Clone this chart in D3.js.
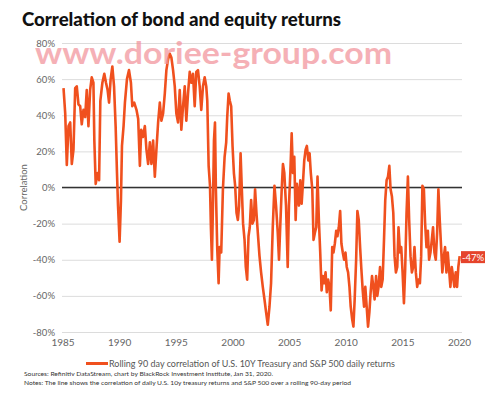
<!DOCTYPE html>
<html>
<head>
<meta charset="utf-8">
<script src="https://cdn.jsdelivr.net/npm/d3@7"></script>
<style>
  body { margin: 0; background: #fff; }
  text { font-family: Lato, "Open Sans", sans-serif; }
</style>
</head>
<body>
<svg id="chart" width="500" height="396"></svg>
<script>
// ---- data ----
const years = [
  1985.09, 1985.24, 1985.38, 1985.53, 1985.68, 1985.82, 1985.97, 1986.12, 1986.26, 1986.41,
  1986.56, 1986.70, 1986.85, 1987.00, 1987.14, 1987.29, 1987.44, 1987.58, 1987.73, 1987.81,
  1987.93, 1988.10, 1988.23, 1988.34, 1988.52, 1988.69, 1988.84, 1988.98, 1989.11, 1989.25,
  1989.40, 1989.55, 1989.69, 1989.81, 1989.90, 1990.04, 1990.16, 1990.25, 1990.39, 1990.51,
  1990.69, 1990.87, 1991.04, 1991.16, 1991.33, 1991.53, 1991.68, 1991.83, 1991.95, 1992.10,
  1992.27, 1992.41, 1992.56, 1992.71, 1992.85, 1993.00, 1993.15, 1993.29, 1993.44, 1993.59,
  1993.73, 1993.88, 1994.03, 1994.17, 1994.32, 1994.47, 1994.61, 1994.76, 1994.91, 1995.05,
  1995.20, 1995.35, 1995.49, 1995.64, 1995.79, 1995.93, 1996.08, 1996.23, 1996.37, 1996.52,
  1996.67, 1996.81, 1996.96, 1997.11, 1997.25, 1997.40, 1997.55, 1997.69, 1997.78, 1997.90,
  1998.02, 1998.10, 1998.19, 1998.28, 1998.37, 1998.46, 1998.54, 1998.66, 1998.78, 1998.87,
  1999.01, 1999.16, 1999.31, 1999.45, 1999.54, 1999.66, 1999.77, 1999.89, 2000.01, 2000.13,
  2000.24, 2000.36, 2000.48, 2000.59, 2000.72, 2000.83, 2000.94, 2001.07, 2001.18, 2001.30,
  2001.42, 2001.53, 2001.65, 2001.77, 2001.89, 2002.00, 2002.12, 2002.24, 2002.39, 2002.53,
  2002.68, 2002.83, 2002.97, 2003.12, 2003.27, 2003.41, 2003.56, 2003.71, 2003.85, 2004.00,
  2004.11, 2004.23, 2004.35, 2004.46, 2004.58, 2004.73, 2004.88, 2004.99, 2005.11, 2005.23,
  2005.34, 2005.46, 2005.58, 2005.69, 2005.87, 2005.99, 2006.11, 2006.22, 2006.34, 2006.46,
  2006.57, 2006.70, 2006.81, 2006.92, 2007.05, 2007.16, 2007.28, 2007.40, 2007.51, 2007.63,
  2007.75, 2007.87, 2007.98, 2008.10, 2008.22, 2008.33, 2008.45, 2008.57, 2008.68, 2008.81,
  2008.92, 2009.04, 2009.16, 2009.27, 2009.39, 2009.51, 2009.62, 2009.74, 2009.86, 2009.98,
  2010.09, 2010.21, 2010.33, 2010.44, 2010.57, 2010.68, 2010.79, 2010.92, 2011.03, 2011.15,
  2011.27, 2011.38, 2011.50, 2011.62, 2011.73, 2011.85, 2011.97, 2012.09, 2012.20, 2012.32,
  2012.44, 2012.55, 2012.68, 2012.79, 2012.90, 2013.03, 2013.14, 2013.26, 2013.38, 2013.49,
  2013.61, 2013.73, 2013.85, 2013.96, 2014.08, 2014.20, 2014.31, 2014.43, 2014.55, 2014.66,
  2014.79, 2014.90, 2015.02, 2015.14, 2015.25, 2015.37, 2015.49, 2015.60, 2015.72, 2015.84,
  2015.96, 2016.07, 2016.19, 2016.31, 2016.42, 2016.55, 2016.66, 2016.77, 2016.90, 2017.01,
  2017.13, 2017.25, 2017.36, 2017.48, 2017.60, 2017.71, 2017.83, 2017.95, 2018.07, 2018.18,
  2018.30, 2018.42, 2018.53, 2018.66, 2018.77, 2018.89, 2019.01, 2019.12, 2019.24, 2019.36,
  2019.47, 2019.59, 2019.71, 2019.83, 2019.94, 2020.06
];
const correlation = [
  55, 41, 12.5, 34, 36, 13, 21, 55, 56, 46,
  45, 35, 43, 39, 54, 34, 54, 61, 58, 26,
  2, 8, 4, 48, 58, 63, 58, 54, 47, 60,
  67, 56, 34, 8, -10, -30, -7, 23, 34, 47,
  60, 65, 58, 45, 47, 43, 38, 12, 32, 28,
  34, 21, 13, 25, 13, 26, 6, 21, 36, 47,
  37, 41, 52, 65, 71, 74, 72, 65, 56, 41,
  36, 54, 32, 45, 56, 37, 52, 64, 58, 63,
  45, 64, 65, 56, 43, 56, 61, 56, 48, 12,
  1, -22, -40, -10, 26, 36, -1, -34, -53, -33,
  -36, -1, 17, 25, 39, 52, 48, 45, 23, 8,
  1, -14, -18, -10, 19, -1, -20, -29, -44, -51,
  -27, -22, -7, -20, -18, -1, -14, -25, -38, -47,
  -55, -62, -69, -76, -66, -53, -22, 1, -10, -25,
  -40, -20, -1, 13, 8, -10, -44, -10, 8, 30,
  8, 17, -18, 2, -10, 4, -9, 2, 15, 21,
  23, 15, 19, 8, -1, -29, -25, -22, 6, -18,
  -36, -57, -49, -53, -47, -58, -51, -55, -68, -33,
  -36, -31, -24, -27, -22, -13, -31, -36, -40, -36,
  -44, -47, -55, -66, -73, -77, -62, -40, -13, -18,
  -33, -45, -57, -66, -55, -66, -77, -69, -58, -49,
  -55, -62, -49, -60, -55, -44, -55, -51, -29, -7,
  4, 6, 12, -1, -5, -14, -38, -47, -44, -22,
  -36, -33, -47, -64, -45, -14, 6, -18, -38, -47,
  -44, -33, -47, -55, -51, -53, -38, 1, -1, -20,
  -33, -24, -40, -36, -29, -22, -36, -40, -25, -1,
  -18, -33, -47, -38, -33, -47, -36, -45, -55, -44,
  -49, -55, -47, -55, -44, -38
];
const yTicks = [-80, -60, -40, -20, 0, 20, 40, 60, 80];
const xTicks = [1985, 1990, 1995, 2000, 2005, 2010, 2015, 2020];
const latestLabel = "-47%";

const title = "Correlation of bond and equity returns";
const legendLabel = "Rolling 90 day correlation of U.S. 10Y Treasury and S&P 500 daily returns";
const sourceNote = "Sources: Refinitiv DataStream, chart by BlackRock Investment Institute, Jan 31, 2020.";
const notesNote = "Notes: The line shows the correlation of daily  U.S. 10y treasury returns and S&P 500 over a rolling 90-day period";
const watermark = "www.doriee-group.com";

const lineColor = "#f0501e";
const data = years.map((yr, i) => ({ year: yr, value: correlation[i] }));

// ---- layout ----
const svg = d3.select("#chart");
const plotLeft = 62, plotRight = 462, plotTop = 43, plotBottom = 332;

const x = d3.scaleLinear().domain([1985, 2020]).range([62.5, 459]);
const y = d3.scaleLinear().domain([-80, 80]).range([plotBottom, plotTop]);

svg.append("text")
  .attr("x", 22).attr("y", 26)
  .attr("font-size", 18).attr("font-weight", 900)
  .attr("fill", "#111")
  .attr("textLength", 319).attr("lengthAdjust", "spacingAndGlyphs")
  .text(title);

// gridlines + y labels
const yAxis = svg.append("g")
  .attr("transform", `translate(${plotLeft},0)`)
  .call(d3.axisLeft(y).tickValues(yTicks).tickSize(-(plotRight - plotLeft)).tickPadding(7)
    .tickFormat(d => d + "%"));
yAxis.select(".domain").remove();
yAxis.selectAll(".tick line").attr("stroke", "#dcdcdc").attr("stroke-width", 1);
yAxis.selectAll(".tick text").attr("font-size", 9.5).attr("fill", "#666")
  .attr("font-family", "Lato, sans-serif");

// zero line
svg.append("line")
  .attr("x1", plotLeft).attr("x2", plotRight)
  .attr("y1", y(0)).attr("y2", y(0))
  .attr("stroke", "#333").attr("stroke-width", 1.5);

// x labels
const xAxis = svg.append("g")
  .attr("transform", `translate(0,${plotBottom})`)
  .call(d3.axisBottom(x).tickValues(xTicks).tickSize(0).tickPadding(7).tickFormat(d3.format("d")));
xAxis.select(".domain").remove();
xAxis.selectAll(".tick text").attr("font-size", 10).attr("fill", "#666")
  .attr("font-family", "Lato, sans-serif");

svg.append("text")
  .attr("transform", `translate(27,${y(0)}) rotate(-90)`)
  .attr("text-anchor", "middle")
  .attr("font-size", 9.5).attr("fill", "#666")
  .text("Correlation");

// series
const line = d3.line().x(d => x(d.year)).y(d => y(d.value)).curve(d3.curveLinear);
svg.append("path")
  .datum(data)
  .attr("d", line)
  .attr("fill", "none")
  .attr("stroke", lineColor)
  .attr("stroke-width", 2.6)
  .attr("stroke-linejoin", "round");

// latest value tag
const last = data[data.length - 1];
const tag = svg.append("g").attr("transform", `translate(461,${y(last.value) + 1})`);
tag.append("rect").attr("x", 0).attr("y", -6).attr("width", 24).attr("height", 12)
  .attr("fill", "#e5432b");
tag.append("text").attr("x", 12).attr("y", 3.5).attr("text-anchor", "middle")
  .attr("font-size", 9.5).attr("fill", "#fff").text(latestLabel);

// legend
svg.append("line")
  .attr("x1", 86).attr("x2", 108).attr("y1", 363.5).attr("y2", 363.5)
  .attr("stroke", lineColor).attr("stroke-width", 3);
svg.append("text")
  .attr("x", 109).attr("y", 367)
  .attr("font-size", 10).attr("fill", "#555")
  .attr("textLength", 286).attr("lengthAdjust", "spacingAndGlyphs")
  .text(legendLabel);

svg.append("text")
  .attr("x", 24).attr("y", 376)
  .attr("font-size", 6.5).attr("fill", "#333")
  .attr("textLength", 249).attr("lengthAdjust", "spacingAndGlyphs")
  .text(sourceNote);
svg.append("text")
  .attr("x", 24).attr("y", 384.5)
  .attr("font-size", 6.5).attr("fill", "#333")
  .attr("textLength", 327).attr("lengthAdjust", "spacingAndGlyphs")
  .text(notesNote);

// watermark over the chart
svg.append("text")
  .attr("x", 35).attr("y", 64)
  .attr("font-size", 31).attr("font-weight", 700)
  .attr("fill", "#f2939a").attr("opacity", 0.72)
  .attr("textLength", 357).attr("lengthAdjust", "spacingAndGlyphs")
  .text(watermark);
</script>
</body>
</html>
